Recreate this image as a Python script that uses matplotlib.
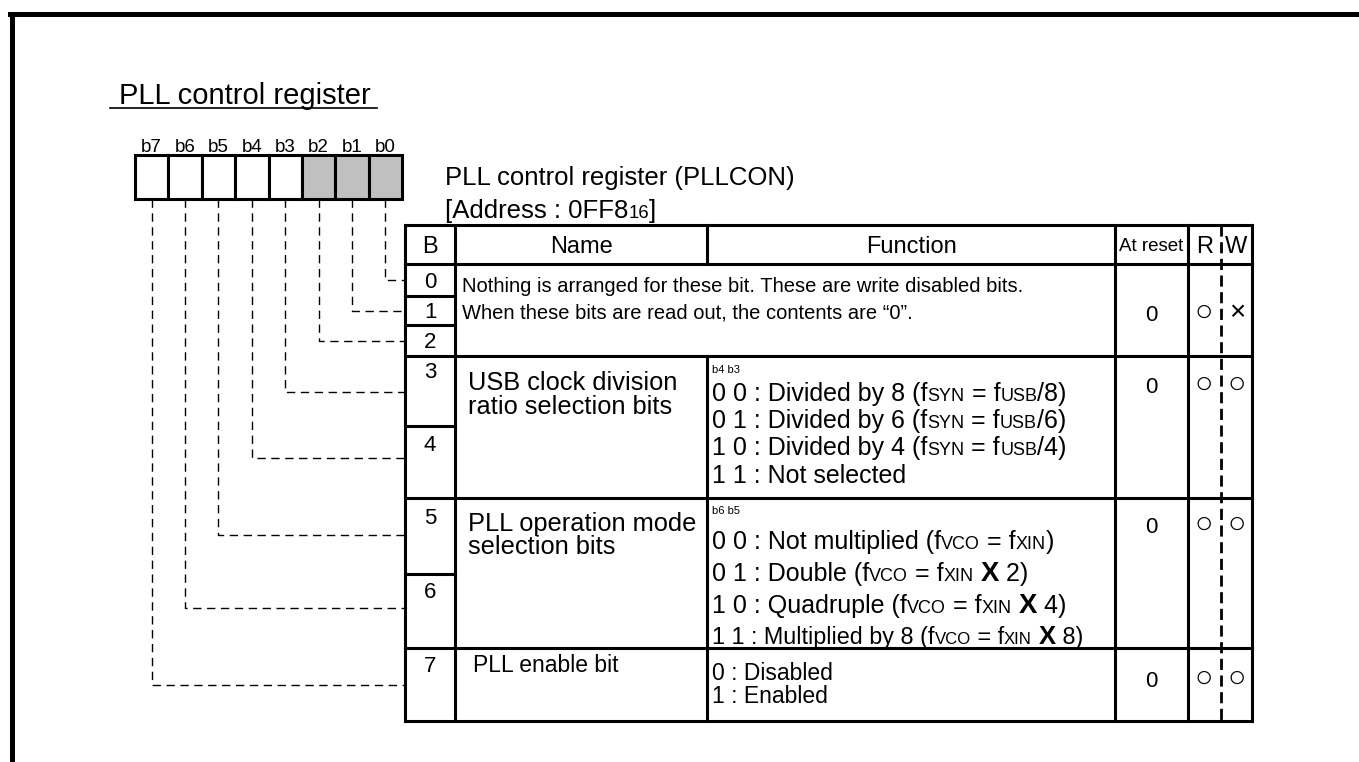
"""Register diagram: PLL control register (PLLCON)."""
import re
import matplotlib
matplotlib.use("Agg")
import matplotlib.pyplot as plt
from matplotlib.patches import Rectangle

plt.rcParams["font.family"] = ["Liberation Sans", "DejaVu Sans"]

# ---- content ---------------------------------------------------------------
title = "PLL control register"
reg_caption = "PLL control register (PLLCON)"
reg_address = "[Address : 0FF8_{16}]"

bit_labels = ["b7", "b6", "b5", "b4", "b3", "b2", "b1", "b0"]
bit_reserved = [False, False, False, False, False, True, True, True]

headers = ["B", "Name", "Function", "At reset", "R", "W"]
bit_numbers = ["0", "1", "2", "3", "4", "5", "6", "7"]

reserved_note = [
    "Nothing is arranged for these bit. These are write disabled bits.",
    "When these bits are read out, the contents are \u201c0\u201d.",
]

usb_name = ["USB clock division", "ratio selection bits"]
usb_bits = "b4 b3"
usb_options = [
    "0 0 : Divided by 8 (f_{SYN} = f_{USB}/8)",
    "0 1 : Divided by 6 (f_{SYN} = f_{USB}/6)",
    "1 0 : Divided by 4 (f_{SYN} = f_{USB}/4)",
    "1 1 : Not selected",
]

pll_name = ["PLL operation mode", "selection bits"]
pll_bits = "b6 b5"
pll_options = [
    "0 0 : Not multiplied (f_{VCO} = f_{XIN})",
    "0 1 : Double (f_{VCO} = f_{XIN} **X** 2)",
    "1 0 : Quadruple (f_{VCO} = f_{XIN} **X** 4)",
    "1 1 : Multiplied by 8 (f_{VCO} = f_{XIN} **X** 8)",
]

enable_name = ["PLL enable bit"]
enable_options = ["0 : Disabled", "1 : Enabled"]

reset_values = ["0", "0", "0", "0"]
read_marks = ["\u25cb", "\u25cb", "\u25cb", "\u25cb"]
write_marks = ["\u00d7", "\u25cb", "\u25cb", "\u25cb"]

# ---- layout (pixel coordinates) -------------------------------------------
FIG_W, FIG_H = 1359, 762
PX = 100 / 72  # pixels per point

col_x = [405, 455, 707, 1115, 1188, 1221, 1252]
row_y = [225, 264, 296, 325, 356, 426, 498, 574, 648, 721]
box_x0, box_x1, box_y0, box_y1 = 135, 402, 155, 199

fig = plt.figure(figsize=(FIG_W / 100, FIG_H / 100), dpi=100)
ax = fig.add_axes([0, 0, 1, 1])
ax.set_xlim(0, FIG_W)
ax.set_ylim(FIG_H, 0)
ax.axis("off")
renderer = fig.canvas.get_renderer()


def text_w(s, size, weight="normal"):
    a = ax.text(0, 0, "H" + s + "H", fontsize=size, fontweight=weight)
    b = ax.text(0, 0, "HH", fontsize=size, fontweight=weight)
    w = a.get_window_extent(renderer).width - b.get_window_extent(renderer).width
    a.remove(); b.remove()
    return w


TOKEN = re.compile(r"_\{(.*?)\}|\*\*(.*?)\*\*|([^_*]+)")


def rich(x, yc, s, size, sub=0.72):
    """Draw text with small baseline 'subscripts' (_{..}) and bold runs (**..**)."""
    base = yc + 0.36 * size * PX
    for m in TOKEN.finditer(s):
        sub_txt, bold_txt, plain = m.groups()
        if sub_txt is not None:
            t, fs, fw = sub_txt, size * sub, "normal"
        elif bold_txt is not None:
            t, fs, fw = bold_txt, size * 1.1, "bold"
        else:
            t, fs, fw = plain, size, "normal"
        ax.text(x, base, t, fontsize=fs, fontweight=fw, va="baseline", ha="left")
        x += text_w(t, fs, fw)


def put(x, yc, s, size, ha="left"):
    ax.text(x, yc + 0.36 * size * PX, s, fontsize=size, ha=ha, va="baseline")


def hline(y, x0, x1, lw=2.2, **kw):
    ax.plot([x0, x1], [y, y], color="black", lw=lw, solid_capstyle="projecting", **kw)


def vline(x, y0, y1, lw=2.2, **kw):
    ax.plot([x, x], [y0, y1], color="black", lw=lw, solid_capstyle="projecting", **kw)


# frame
hline(14, 10, FIG_W, lw=3.6)
vline(12, 14, FIG_H, lw=3.6)

# title
put(119, 94, title, 21)
hline(108, 110, 377, lw=1.2)

# bit boxes
cell_w = (box_x1 - box_x0) / len(bit_labels)
bit_cx = []
for i, (lab, res) in enumerate(zip(bit_labels, bit_reserved)):
    x0 = box_x0 + i * cell_w
    ax.add_patch(Rectangle((x0, box_y0), cell_w, box_y1 - box_y0,
                           facecolor="#c0c0c0" if res else "white",
                           edgecolor="black", lw=2.2))
    cx = x0 + cell_w / 2
    bit_cx.append(cx)
    put(cx, 145, lab, 13.5, ha="center")

# captions
put(445, 176, reg_caption, 18.5)
rich(445, 209, reg_address, 18.5)

# dashed leaders from each bit box to its row
lead_y = [280, 311, 341, 392, 458, 535, 608, 685]
for k, yy in enumerate(lead_y):
    cx = bit_cx[7 - k]
    ax.plot([cx, cx, col_x[0]], [box_y1, yy, yy],
            color="black", lw=1.0, ls=(0, (6, 4)))

# table grid
x_l, x_r = col_x[0], col_x[-1]
hline(row_y[0], x_l, x_r)
hline(row_y[1], x_l, x_r)
for yy in (row_y[2], row_y[3], row_y[5], row_y[7]):
    hline(yy, x_l, col_x[1])
for yy in (row_y[4], row_y[6], row_y[8]):
    hline(yy, x_l, x_r)
hline(row_y[-1], x_l, x_r)
for xx in (col_x[0], col_x[1], col_x[3], col_x[4], col_x[6]):
    vline(xx, row_y[0], row_y[-1])
vline(col_x[2], row_y[0], row_y[1])
vline(col_x[2], row_y[4], row_y[-1])
ax.plot([col_x[5], col_x[5]], [row_y[0], row_y[-1]], color="black", lw=2.0,
        ls=(0, (4, 2)))

# header
hy = (row_y[0] + row_y[1]) / 2
for i, h in enumerate(headers):
    cx = (col_x[i] + col_x[i + 1]) / 2
    put(cx, hy, h, 13.5 if h == "At reset" else 17, ha="center")

# bit numbers
num_y = [280, 310, 340, 370, 443, 516, 590, 664]
for n, yy in zip(bit_numbers, num_y):
    put(430, yy, n, 16, ha="center")

# reserved bits
for line, yy in zip(reserved_note, (285, 311)):
    put(462, yy, line, 14.5)

# names
for line, yy in zip(usb_name, (381, 405)):
    put(468, yy, line, 18.3)
for line, yy in zip(pll_name, (522, 545)):
    put(468, yy, line, 18.3)
put(473, 664, enable_name[0], 16.5)

# functions
put(712, 369, usb_bits, 8)
for line, yy in zip(usb_options, (392, 419, 446, 474)):
    rich(712, yy, line, 18)
put(712, 510, pll_bits, 8)
for line, yy in zip(pll_options[:3], (540, 572, 604)):
    rich(712, yy, line, 18)
rich(712, 636, pll_options[3], 16.8)
for line, yy in zip(enable_options, (672, 695)):
    put(712, yy, line, 16.5)

# reset value and R/W
rw_y = [313, 385, 525, 679]
for v, r, w, yy in zip(reset_values, read_marks, write_marks, rw_y):
    put((col_x[3] + col_x[4]) / 2, yy, v, 16, ha="center")
    ax.text(1204, yy, r, fontsize=22, ha="center", va="center")
    ax.text(1237, yy, w, fontsize=20 if w == "\u00d7" else 22, ha="center", va="center")

fig.savefig("out.png", dpi=100)
